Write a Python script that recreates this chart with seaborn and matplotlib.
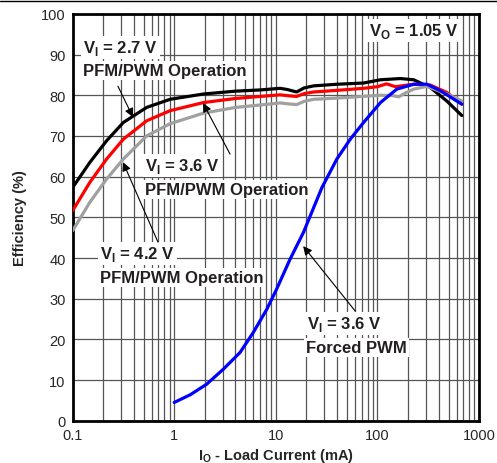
import numpy as np
import pandas as pd
import matplotlib
matplotlib.use("Agg")
import matplotlib.pyplot as plt
import seaborn as sns
from matplotlib.ticker import FixedLocator, FuncFormatter, NullFormatter

# V_I = 2.7 V, PFM/PWM
x_27 = [0.1, 0.148, 0.216, 0.316, 0.535, 0.91, 1.94, 4, 7, 11, 13, 16, 19, 23.5, 40, 73, 107, 168, 227, 331, 480, 676]
y_27 = [57.3, 63.5, 68.8, 73.3, 77.0, 79.0, 80.3, 81.0, 81.3, 81.7, 81.4, 80.8, 81.8, 82.3, 82.7, 83.0, 83.8, 84.1, 83.8, 81.9, 78.6, 75.0]

# V_I = 3.6 V, PFM/PWM
x_36 = [0.1, 0.148, 0.216, 0.316, 0.535, 0.91, 1.94, 4, 7, 11, 13, 16, 19, 23.5, 40, 73, 100, 123, 150, 227, 331, 480, 676]
y_36 = [51.6, 58.6, 64.3, 69.2, 73.7, 76.2, 78.2, 79.2, 79.7, 80.1, 79.9, 79.7, 80.4, 80.8, 81.2, 81.7, 82.1, 82.8, 82.1, 82.7, 82.5, 80.7, 77.8]

# V_I = 4.2 V, PFM/PWM
x_42 = [0.1, 0.148, 0.216, 0.316, 0.535, 0.91, 1.94, 4, 7, 11, 13, 16, 19, 23.5, 40, 107, 140, 162, 190, 227, 307, 480, 676]
y_42 = [46.7, 53.7, 59.4, 64.3, 70.0, 73.0, 75.6, 77.0, 77.6, 78.1, 77.9, 77.7, 78.5, 79.0, 79.3, 80.0, 79.9, 79.6, 80.6, 81.5, 82.2, 80.3, 78.6]

# V_I = 3.6 V, forced PWM
x_fpwm = [1, 1.44, 2.09, 3.05, 4.45, 6, 8.15, 10.2, 13.8, 18.7, 28.4, 39.8, 54, 73, 107, 155, 227, 307, 416, 676]
y_fpwm = [4.5, 6.4, 9.0, 12.7, 16.8, 21.7, 27.4, 32.4, 39.7, 46.3, 57.3, 64.3, 69.2, 73.3, 78.2, 81.5, 82.7, 82.7, 81.1, 77.8]

x_ticks = [0.1, 1, 10, 100, 1000]
x_ticklabels = ["0.1", "1", "10", "100", "1000"]
y_ticks = list(range(0, 101, 10))

sns.set_style("white")
plt.rcParams["font.family"] = ["Liberation Sans", "DejaVu Sans"]
plt.rcParams["mathtext.fontset"] = "custom"
plt.rcParams["mathtext.bf"] = "Liberation Sans:bold"
plt.rcParams["mathtext.rm"] = "Liberation Sans"

fig = plt.figure(figsize=(4.97, 4.64), dpi=100)
ax = fig.add_axes([0.146, 0.091, 0.818, 0.877])

curves = [
    (x_27, y_27, "black"),
    (x_36, y_36, "#ff0000"),
    (x_42, y_42, "#a0a0a0"),
    (x_fpwm, y_fpwm, "#0000ff"),
]
for xs, ys, col in curves:
    df = pd.DataFrame({"I": xs, "eff": ys})
    sns.lineplot(data=df, x="I", y="eff", color=col, lw=2.3, ax=ax, zorder=3)

ax.set_xscale("log")
ax.set_xlim(0.1, 1000)
ax.set_ylim(0, 100)
ax.xaxis.set_major_locator(FixedLocator(x_ticks))
ax.xaxis.set_major_formatter(FuncFormatter(lambda v, p: x_ticklabels[x_ticks.index(v)] if v in x_ticks else ""))
minor = [m * 10.0 ** e for e in range(-1, 3) for m in range(2, 10)]
ax.xaxis.set_minor_locator(FixedLocator(minor))
ax.xaxis.set_minor_formatter(NullFormatter())
ax.set_yticks(y_ticks)
ax.grid(True, which="both", color="#555555", lw=0.9)
ax.tick_params(which="both", length=0, labelsize=10.5, pad=5)
for s in ax.spines.values():
    s.set_linewidth(2)
    s.set_color("black")

ax.set_xlabel(r"I$_\mathbf{O}$ - Load Current (mA)", fontsize=10.5, fontweight="bold", labelpad=3)
ax.set_ylabel("Efficiency (%)", fontsize=10.5, fontweight="bold", labelpad=10)

box = dict(facecolor="white", edgecolor="none", pad=1.5)
tkw = dict(fontsize=12, fontweight="bold", color="#231f20", zorder=5, bbox=box, va="center")
akw = dict(arrowstyle="-|>", color="black", lw=0.8, mutation_scale=13, shrinkA=0, shrinkB=0)

def to_data(px, py):
    return 10 ** ((px - 72.7) / 101.5 - 1), (421.7 - py) / 4.07

# labels
ax.text(*to_data(83, 48), r"V$_\mathbf{I}$ = 2.7 V", **tkw)
ax.text(*to_data(83, 71), "PFM/PWM Operation", **tkw)
ax.text(*to_data(145, 166), r"V$_\mathbf{I}$ = 3.6 V", **tkw)
ax.text(*to_data(145, 190), "PFM/PWM Operation", **tkw)
ax.text(*to_data(100, 254), r"V$_\mathbf{I}$ = 4.2 V", **tkw)
ax.text(*to_data(100, 278), "PFM/PWM Operation", **tkw)
ax.text(*to_data(307, 324), r"V$_\mathbf{I}$ = 3.6 V", **tkw)
ax.text(*to_data(306, 348), "Forced PWM", **tkw)
ax.text(*to_data(369, 31), r"V$_\mathbf{O}$ = 1.05 V", **tkw)

# arrows
for tail, head in [((118, 87), (133, 118)), ((230, 155), (203, 104)),
                   ((158, 243), (123, 163)), ((355, 312), (303, 247))]:
    ax.annotate("", xy=to_data(*head), xytext=to_data(*tail), arrowprops=akw, zorder=6)

fig.add_artist(plt.Line2D([0, 1], [0.996, 0.996], color="black", lw=1, transform=fig.transFigure))

fig.savefig("out.png", dpi=100)
